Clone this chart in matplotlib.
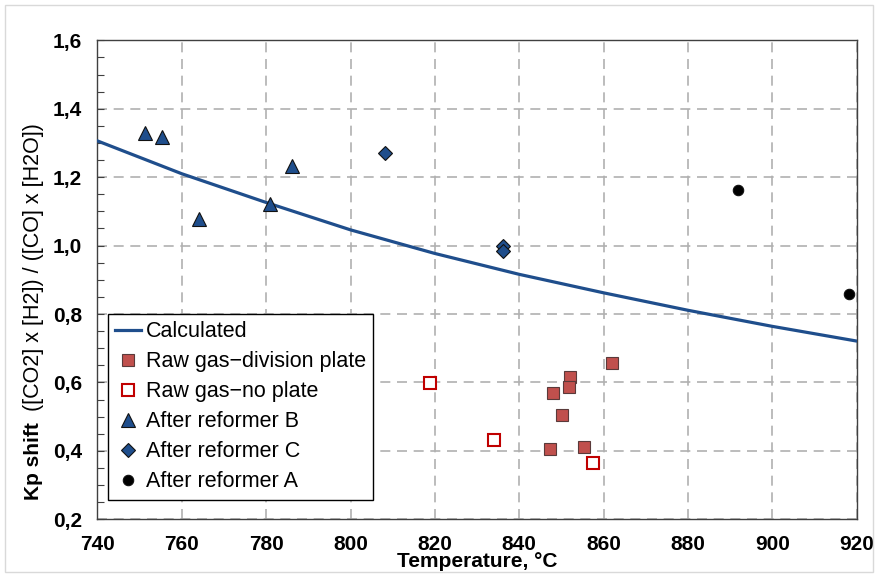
import numpy as np
import matplotlib
matplotlib.use('Agg')
import matplotlib.pyplot as plt
from matplotlib.patches import Rectangle
from matplotlib.ticker import MultipleLocator, FuncFormatter

plt.rcParams['font.family'] = ['Liberation Sans', 'DejaVu Sans']

# ── data ──────────────────────────────────────────────────────────────────────
calc_T  = [740, 760, 780, 800, 820, 840, 860, 880, 900, 920]
calc_kp = [1.306, 1.210, 1.126, 1.046, 0.977, 0.916, 0.862, 0.811, 0.764, 0.721]

plate_T  = [862.1, 852.1, 851.9, 848.0, 850.2, 847.2, 855.3]
plate_kp = [0.656, 0.616, 0.586, 0.570, 0.504, 0.405, 0.412]

noplate_T  = [818.8, 834.0, 857.5]
noplate_kp = [0.598, 0.431, 0.366]

refB_T  = [751.2, 755.2, 764.0, 780.9, 786.1]
refB_kp = [1.329, 1.317, 1.077, 1.121, 1.232]

refC_T  = [808.2, 836.2, 836.2]
refC_kp = [1.270, 0.998, 0.984]

refA_T  = [891.8, 918.1]
refA_kp = [1.162, 0.858]

# ── figure ────────────────────────────────────────────────────────────────────
fig = plt.figure(figsize=(8.78, 5.76), dpi=100)
ax = fig.add_axes([0.111, 0.0984, 0.8647, 0.8316])

ax.plot(calc_T, calc_kp, color='#1F4E8C', lw=2.3, label='Calculated', zorder=3)
ax.plot(plate_T, plate_kp, ls='none', marker='s', ms=9, mfc='#C0504D',
        mec='#5a3a3a', mew=0.8, label='Raw gas\u2212division plate', zorder=4)
ax.plot(noplate_T, noplate_kp, ls='none', marker='s', ms=9, mfc='white',
        mec='#C00000', mew=1.5, label='Raw gas\u2212no plate', zorder=4)
ax.plot(refB_T, refB_kp, ls='none', marker='^', ms=10, mfc='#1F4E8C',
        mec='#111111', mew=0.8, label='After reformer B', zorder=4)
ax.plot(refC_T, refC_kp, ls='none', marker='D', ms=7, mfc='#1F4E8C',
        mec='#111111', mew=0.8, label='After reformer C', zorder=4)
ax.plot(refA_T, refA_kp, ls='none', marker='o', ms=7.5, mfc='black',
        mec='#111111', mew=0.8, label='After reformer A', zorder=4)

ax.set_xlim(740, 920)
ax.set_ylim(0.2, 1.6)
ax.xaxis.set_major_locator(MultipleLocator(20))
ax.yaxis.set_major_locator(MultipleLocator(0.2))
ax.yaxis.set_minor_locator(MultipleLocator(0.05))
ax.yaxis.set_major_formatter(FuncFormatter(lambda v, p: f'{v:.1f}'.replace('.', ',')))

ax.tick_params(axis='x', length=0, pad=11, labelsize=15)
ax.tick_params(axis='y', which='both', direction='in', color='#404040', pad=11, labelsize=15)
ax.tick_params(axis='y', which='major', length=5, width=0.8)
ax.tick_params(axis='y', which='minor', length=5, width=0.8)
for lab in ax.get_xticklabels() + ax.get_yticklabels():
    lab.set_fontweight('bold')

ax.grid(True, which='major', color='#B0B0B0', ls=(0, (6, 4)), lw=1.2)
ax.set_axisbelow(True)
for sp in ax.spines.values():
    sp.set_color('#404040')
    sp.set_linewidth(1.0)

ax.set_xlabel('Temperature, °C', fontsize=15, fontweight='bold', labelpad=-1)

# y label: bold part + regular part
fig.text(0.0376, 0.2000, 'Kp shift', rotation=90, ha='center', va='center',
         fontsize=15, fontweight='bold')
fig.text(0.0376, 0.5356, '([CO2] x [H2]) / ([CO] x [H2O])', rotation=90,
         ha='center', va='center', fontsize=15.5)

leg = ax.legend(loc='lower left', bbox_to_anchor=(0.0138, 0.0403), fontsize=15.5,
                frameon=True, fancybox=False, edgecolor='black', framealpha=1,
                handlelength=1.2, handletextpad=0.2, labelspacing=0.42,
                borderpad=0.35, borderaxespad=0)
leg.get_frame().set_linewidth(1.0)

# light outer frame of the picture
fig.patches.append(Rectangle((5 / 878, 4 / 576), 868 / 878, 567 / 576,
                             transform=fig.transFigure, fill=False,
                             edgecolor='#D9D9D9', lw=1.0))

fig.savefig('out.png', dpi=100)
